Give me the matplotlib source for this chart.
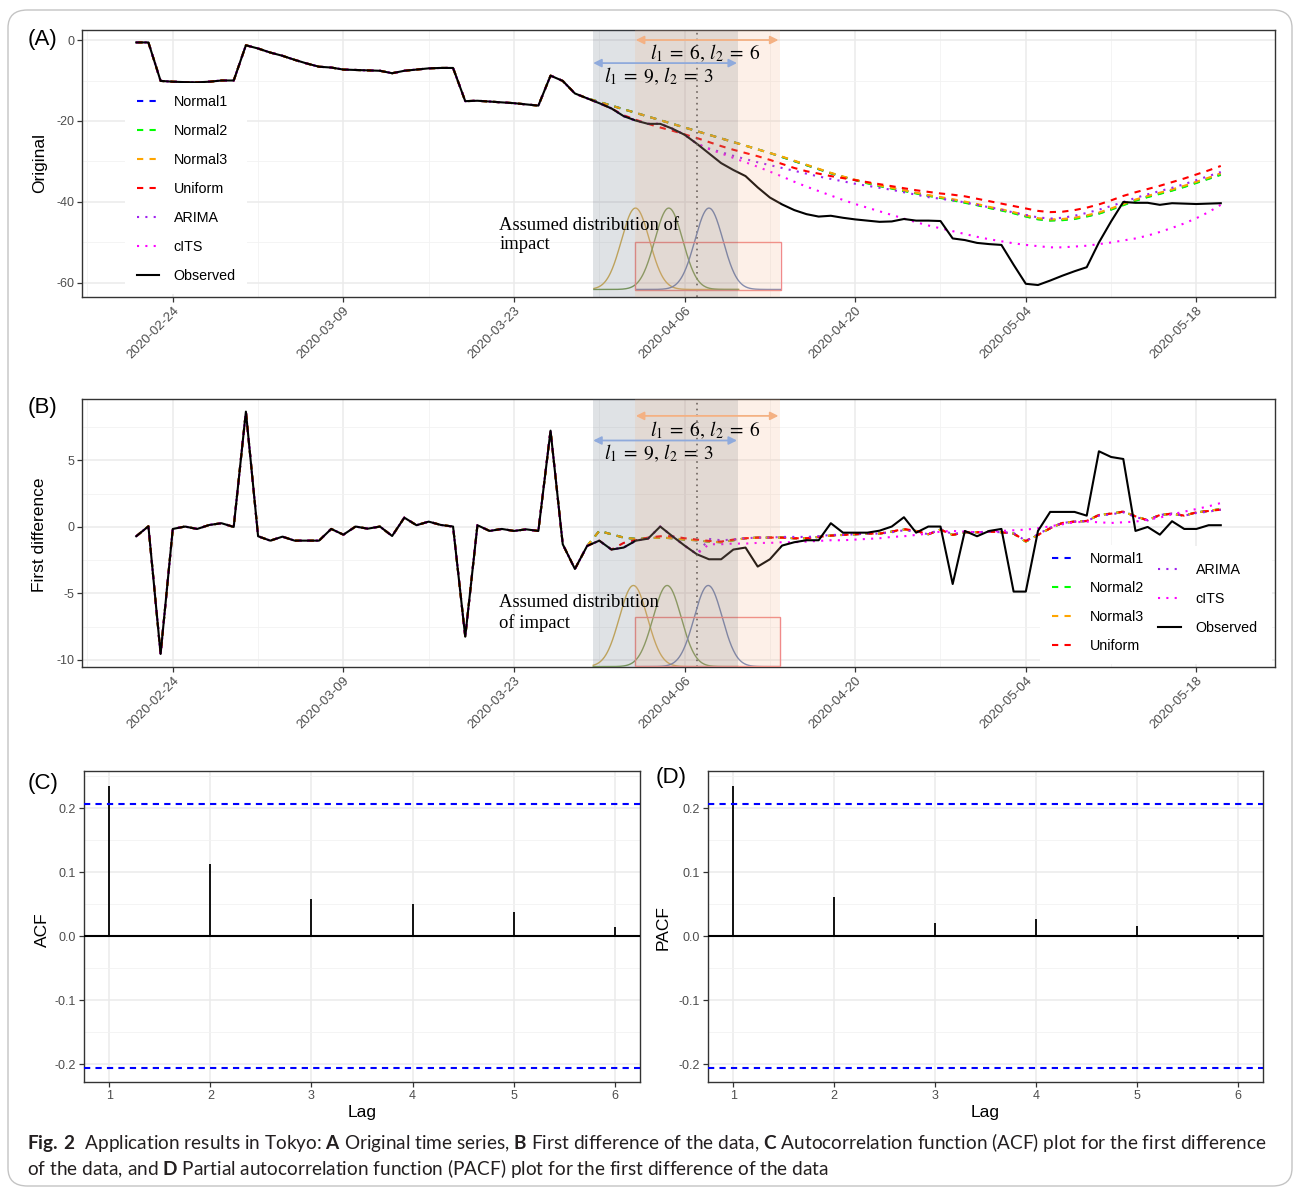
import numpy as np
import pandas as pd
import matplotlib
matplotlib.use('Agg')
import matplotlib.pyplot as plt
import matplotlib.dates as mdates
from matplotlib.patches import Rectangle, FancyBboxPatch
from matplotlib.lines import Line2D

plt.rcParams['font.family'] = ['Liberation Sans', 'DejaVu Sans']
plt.rcParams['axes.unicode_minus'] = False
plt.rcParams['mathtext.fontset'] = 'custom'
plt.rcParams['mathtext.rm'] = 'Lato'
plt.rcParams['mathtext.bf'] = 'Lato:bold'

# ---- data ----
dates = pd.date_range('2020-02-21', periods=90, freq='D')

observed = [-0.6, -0.6, -10.1, -10.3, -10.4, -10.45, -10.3, -10.0, -10.0, -1.3,
            -2.1, -3.1, -3.9, -4.9, -5.8, -6.6, -6.8, -7.3, -7.4, -7.5,
            -7.6, -8.2, -7.6, -7.3, -7.0, -6.9, -6.9, -15.1, -15.0, -15.2,
            -15.4, -15.6, -15.9, -16.2, -8.8, -10.1, -13.2, -14.4, -15.6, -16.9,
            -18.8, -19.9, -20.7, -20.7, -21.9, -23.4, -25.6, -28.0, -30.4, -32.1,
            -33.6, -36.4, -38.9, -40.6, -42.0, -43.0, -43.6, -43.4, -43.9, -44.3,
            -44.6, -44.9, -44.8, -44.2, -44.6, -44.6, -44.7, -49.0, -49.4, -50.1,
            -50.4, -50.6, -55.5, -60.2, -60.5, -59.4, -58.2, -57.1, -56.1, -50.0,
            -44.8, -40.0, -40.2, -40.2, -40.7, -40.3, -40.4, -40.5, -40.4, -40.3]

observed_diff = [-0.7, 0.05, -9.55, -0.15, 0.03, -0.15, 0.15, 0.28, 0.0, 8.67,
                 -0.7, -1.03, -0.73, -1.03, -1.03, -1.03, -0.15, -0.58, 0.03, -0.13,
                 0.03, -0.68, 0.7, 0.13, 0.4, 0.15, 0.03, -8.25, 0.13, -0.3,
                 -0.15, -0.3, -0.18, -0.3, 7.24, -1.3, -3.16, -1.43, -1.03, -1.7,
                 -1.55, -1.03, -0.88, 0.03, -0.7, -1.4, -2.05, -2.43, -2.43, -1.7,
                 -1.55, -2.98, -2.43, -1.4, -1.15, -1.0, -1.0, 0.28, -0.43, -0.43,
                 -0.43, -0.28, 0.03, 0.73, -0.43, 0.03, 0.03, -4.29, -0.3, -0.7,
                 -0.3, -0.15, -4.86, -4.86, -0.3, 1.13, 1.13, 1.13, 0.85, 5.69,
                 5.26, 5.11, -0.3, 0.0, -0.58, 0.43, -0.15, -0.15, 0.13, 0.13]

# counterfactual levels (panel A); before the start day each model equals the observed series
normal_start = 38
normal1 = [-15.3, -16.2, -17.1, -18.0, -18.9, -19.8, -20.7, -21.6, -22.5, -23.4, -24.3, -25.2, -26.1,
           -27.0, -27.9, -28.9, -29.9, -30.9, -31.9, -32.9, -33.8, -34.6, -35.3, -36.0, -36.6, -37.2,
           -37.8, -38.4, -38.9, -39.5, -40.1, -40.7, -41.4, -42.0, -42.7, -43.5, -44.2, -44.5, -44.4,
           -44.1, -43.5, -42.8, -41.8, -40.7, -39.6, -38.7, -37.9, -37.1, -36.2, -35.2, -34.2, -33.2]
normal2 = [-15.3, -16.2, -17.1, -18.0, -18.9, -19.8, -20.7, -21.6, -22.5, -23.4, -24.3, -25.2, -26.1,
           -27.0, -27.9, -28.9, -29.9, -30.9, -31.9, -32.9, -33.8, -34.6, -35.4, -36.1, -36.7, -37.3,
           -37.9, -38.5, -39.0, -39.6, -40.2, -40.8, -41.5, -42.1, -42.8, -43.6, -44.3, -44.6, -44.5,
           -44.2, -43.6, -42.9, -41.9, -40.8, -39.7, -38.8, -38.0, -37.2, -36.3, -35.3, -34.3, -33.3]
normal3 = [-15.3, -16.2, -17.1, -18.0, -18.9, -19.8, -20.7, -21.6, -22.5, -23.4, -24.3, -25.2, -26.1,
           -27.0, -27.9, -28.8, -29.8, -30.8, -31.8, -32.8, -33.7, -34.5, -35.2, -35.9, -36.5, -37.1,
           -37.7, -38.3, -38.8, -39.3, -39.9, -40.5, -41.2, -41.8, -42.5, -43.3, -44.0, -44.3, -44.2,
           -43.9, -43.3, -42.6, -41.6, -40.5, -39.4, -38.5, -37.7, -36.9, -36.0, -35.0, -34.0, -32.9]
uniform_start = 40
uniform = [-18.6, -19.7, -20.7, -21.6, -22.4, -23.3, -24.2, -25.2, -26.2, -27.1, -27.9, -28.7, -29.6,
           -30.6, -31.6, -32.4, -33.0, -33.6, -34.1, -34.6, -35.1, -35.6, -36.1, -36.6, -37.1, -37.5,
           -37.9, -38.2, -38.6, -39.2, -39.8, -40.4, -41.0, -41.6, -42.2, -42.5, -42.4, -42.0, -41.4,
           -40.6, -39.6, -38.5, -37.6, -36.8, -36.0, -35.1, -34.2, -33.2, -32.2, -31.1]
its_start = 47
arima = [-26.8, -27.7, -28.6, -29.4, -30.2, -30.9, -31.6, -32.3, -33.0, -33.7, -34.3, -34.9, -35.5,
         -36.0, -36.5, -37.0, -37.6, -38.2, -38.8, -39.2, -39.6, -40.1, -40.7, -41.3, -41.9, -42.6,
         -43.2, -43.8, -44.1, -43.9, -43.4, -42.7, -41.9, -41.0, -40.0, -39.0, -38.1, -37.3, -36.5,
         -35.6, -34.6, -33.6, -32.6]
cits = [-26.9, -28.0, -29.1, -30.2, -31.3, -32.5, -33.7, -35.0, -36.2, -37.3, -38.4, -39.5, -40.5,
        -41.4, -42.3, -43.2, -44.1, -45.0, -45.8, -46.5, -47.2, -47.9, -48.6, -49.2, -49.7, -50.2,
        -50.6, -50.9, -51.2, -51.2, -51.0, -50.8, -50.4, -50.0, -49.5, -49.0, -48.3, -47.4, -46.4,
        -45.3, -44.0, -42.5, -40.7]

# counterfactual first differences (panel B)
normal1_diff = [-0.3, -0.55, -0.8, -0.9, -0.85, -0.8, -0.85, -0.95, -1.0, -1.1, -1.15, -1.0, -0.85,
                -0.8, -0.8, -0.8, -0.85, -0.85, -0.75, -0.65, -0.6, -0.55, -0.5, -0.5, -0.35, -0.2,
                -0.3, -0.55, -0.2, -0.6, -0.4, -0.4, -0.35, -0.4, -0.5, -1.1, -0.6, -0.1, 0.3,
                0.4, 0.45, 0.9, 1.0, 1.15, 0.8, 0.5, 0.9, 1.0, 0.85, 1.1, 1.2, 1.35]
normal2_diff = [-0.3, -0.55, -0.8, -0.9, -0.85, -0.8, -0.85, -0.95, -1.0, -1.1, -1.15, -1.0, -0.85,
                -0.8, -0.8, -0.8, -0.85, -0.85, -0.75, -0.65, -0.6, -0.55, -0.5, -0.5, -0.35, -0.2,
                -0.3, -0.55, -0.2, -0.6, -0.4, -0.4, -0.35, -0.4, -0.5, -1.1, -0.6, -0.1, 0.3,
                0.4, 0.45, 0.9, 1.0, 1.15, 0.8, 0.5, 0.9, 1.0, 0.85, 1.1, 1.2, 1.35]
normal3_diff = [-0.3, -0.55, -0.8, -0.9, -0.85, -0.8, -0.85, -0.95, -1.0, -1.1, -1.15, -1.0, -0.85,
                -0.8, -0.8, -0.8, -0.85, -0.85, -0.75, -0.65, -0.6, -0.55, -0.5, -0.5, -0.35, -0.2,
                -0.3, -0.55, -0.2, -0.6, -0.4, -0.4, -0.35, -0.4, -0.5, -1.1, -0.6, -0.1, 0.3,
                0.4, 0.45, 0.9, 1.0, 1.15, 0.8, 0.5, 0.9, 1.0, 0.85, 1.1, 1.2, 1.35]
uniform_diff = [-1.2, -1.0, -0.8, -0.7, -0.7, -0.85, -0.95, -1.05, -1.1, -0.95, -0.85,
                -0.8, -0.8, -0.8, -0.85, -0.85, -0.75, -0.65, -0.6, -0.55, -0.5, -0.5, -0.35, -0.15,
                -0.3, -0.55, -0.2, -0.6, -0.4, -0.4, -0.35, -0.4, -0.5, -1.05, -0.6, -0.1, 0.3,
                0.4, 0.45, 0.9, 1.0, 1.15, 0.8, 0.5, 0.9, 1.0, 0.85, 1.1, 1.2, 1.3]
arima_diff = [-0.9, -1.0, -0.95, -0.85, -0.8, -0.8, -0.75, -0.75, -0.75, -0.7, -0.6, -0.6, -0.55,
              -0.5, -0.5, -0.4, -0.25, -0.35, -0.55, -0.15, -0.55, -0.35, -0.4, -0.35, -0.4, -0.45,
              -1.05, -0.55, -0.05, 0.3, 0.4, 0.45, 0.85, 0.95, 1.1, 0.75, 0.5, 0.9, 1.0,
              0.85, 1.05, 1.15, 1.3]
cits_diff = [-1.3, -1.3, -1.25, -1.25, -1.2, -1.2, -1.15, -1.15, -1.1, -1.05, -1.0, -1.0, -0.95,
             -0.9, -0.85, -0.75, -0.7, -0.6, -0.5, -0.35, -0.3, -0.35, -0.4, -0.35, -0.3, -0.25,
             -0.2, -0.1, 0.05, 0.2, 0.35, 0.4, 0.35, 0.3, 0.35, 0.4, 0.55, 0.7, 0.95,
             1.15, 1.35, 1.55, 1.8]

lags = [1, 2, 3, 4, 5, 6]
acf_vals = [0.234, 0.112, 0.058, 0.050, 0.038, 0.014]
pacf_vals = [0.234, 0.061, 0.020, 0.027, 0.016, -0.004]
conf_bound = 0.206

model_names = ['Normal1', 'Normal2', 'Normal3', 'Uniform', 'ARIMA', 'cITS']
model_colors = ['#0000ff', '#00ff00', '#ffa500', '#ff0000', '#a020f0', '#ff00ff']
dashed = (0, (3, 3))
dotted = (0, (1, 3))
model_ls = [dashed, dashed, dashed, dashed, dotted, dotted]

# ---- figure ----
W, H = 1295, 1188
fig = plt.figure(figsize=(W / 100, H / 100), dpi=100)


def box(l, t, r, b):
    return [l / W, 1 - b / H, (r - l) / W, (b - t) / H]


axA = fig.add_axes(box(82, 30, 1275, 297))
axB = fig.add_axes(box(82, 399, 1275, 667))
axC = fig.add_axes(box(84, 771, 640, 1082))
axD = fig.add_axes(box(708, 771, 1263, 1082))

x = mdates.date2num(dates)
x0 = x[0]


def day(i):
    return x0 + i


def style(ax):
    ax.set_axisbelow(True)
    ax.grid(which='major', color='#ebebeb', lw=1.1)
    ax.grid(which='minor', color='#f2f2f2', lw=0.6)
    for s in ax.spines.values():
        s.set_color('#333333')
        s.set_linewidth(1.0)
    ax.tick_params(which='major', length=3.5, width=0.9, color='#333333',
                   labelcolor='#4d4d4d', labelsize=9, pad=2)
    ax.tick_params(which='minor', length=0)


obs = np.array(observed)
obs_d = np.array(observed_diff)
levels = [np.concatenate([obs[:normal_start], normal1]),
          np.concatenate([obs[:normal_start], normal2]),
          np.concatenate([obs[:normal_start], normal3]),
          np.concatenate([obs[:uniform_start], uniform]),
          np.concatenate([obs[:its_start], arima]),
          np.concatenate([obs[:its_start], cits])]
diffs = [np.concatenate([obs_d[:normal_start], normal1_diff]),
         np.concatenate([obs_d[:normal_start], normal2_diff]),
         np.concatenate([obs_d[:normal_start], normal3_diff]),
         np.concatenate([obs_d[:uniform_start], uniform_diff]),
         np.concatenate([obs_d[:its_start], arima_diff]),
         np.concatenate([obs_d[:its_start], cits_diff])]

major_days = pd.date_range('2020-02-24', periods=7, freq='14D')
major_x = mdates.date2num(major_days)
minor_x = major_x[:-1] + 7
minor_x = np.concatenate([[major_x[0] - 7], minor_x])


def bell(ax, center, lo, hi, base, peak, color):
    xx = np.linspace(lo, hi, 300)
    yy = base + (peak - base) * np.exp(-0.5 * ((xx - center) / 1.15) ** 2)
    ax.plot(day(xx), yy, color=color, lw=1.0, zorder=9)


for ax, series, obs_series, ylim, ymaj, ymin in [
        (axA, levels, obs, (-63.46, 2.47), [-60, -40, -20, 0], [-50, -30, -10]),
        (axB, diffs, obs_d, (-10.53, 9.62), [-10, -5, 0, 5], [-7.5, -2.5, 2.5, 7.5])]:
    style(ax)
    for s, c, ls in zip(series, model_colors, model_ls):
        ax.plot(x, s, color=c, ls=ls, lw=1.5, zorder=3)
    ax.plot(x, obs_series, color='black', lw=1.5, zorder=4)
    ax.axvline(day(46), color='#555555', ls=(0, (1, 2.5)), lw=1.2, zorder=5)
    ax.set_xlim(x0 - 4.45, x0 + 89 + 4.45)
    ax.set_ylim(*ylim)
    ax.set_xticks(major_x)
    ax.set_xticklabels([d.strftime('%Y-%m-%d') for d in major_days], rotation=45,
                       ha='right', va='top', rotation_mode='anchor', fontsize=9.5)
    ax.set_xticks(minor_x, minor=True)
    ax.set_yticks(ymaj)
    ax.set_yticklabels([str(v) for v in ymaj])
    ax.set_yticks(ymin, minor=True)
    # shaded windows (l1=9,l2=3 and l1=6,l2=6)
    ax.axvspan(day(37.5), day(49.4), color='#44546a', alpha=0.17, lw=0, zorder=10)
    ax.axvspan(day(40.9), day(52.8), color='#f4b183', alpha=0.18, lw=0, zorder=10)

lab_66 = r'$l_1\;=\;6,\,l_2\;=\;6$'
lab_93 = r'$l_1\;=\;9,\,l_2\;=\;3$'

# annotations panel A
axA.annotate('', xy=(day(52.7), 0.0), xytext=(day(41.0), 0.0),
             arrowprops=dict(arrowstyle='<|-|>', color='#f4b183', lw=1.3, mutation_scale=12,
                             shrinkA=0, shrinkB=0), zorder=11)
axA.annotate('', xy=(day(49.3), -5.7), xytext=(day(37.5), -5.7),
             arrowprops=dict(arrowstyle='<|-|>', color='#8faadc', lw=1.3, mutation_scale=12,
                             shrinkA=0, shrinkB=0), zorder=11)
axA.text(day(46.7), -3.3, lab_66, ha='center', va='center', fontsize=14,
         math_fontfamily='stix', zorder=11)
axA.text(day(42.9), -9.0, lab_93, ha='center', va='center', fontsize=14,
         math_fontfamily='stix', zorder=11)
bell(axA, 40.97, 37.56, 49.43, -61.6, -41.5, '#d6b35a')
bell(axA, 43.7, 37.56, 49.43, -61.6, -41.5, '#7fa05a')
bell(axA, 47.0, 41.0, 52.87, -61.6, -41.5, '#6f86b8')
axA.add_patch(Rectangle((day(40.9), -61.7), 12.0, 11.9, fill=False, ec='#f08a8a', lw=1.0, zorder=9))
axA.text(day(29.8), -43.6, 'Assumed distribution of\nimpact', ha='left', va='top', fontsize=13.4,
         family='Liberation Serif', linespacing=1.2, zorder=11)

# annotations panel B
axB.annotate('', xy=(day(52.7), 8.35), xytext=(day(41.0), 8.35),
             arrowprops=dict(arrowstyle='<|-|>', color='#f4b183', lw=1.3, mutation_scale=12,
                             shrinkA=0, shrinkB=0), zorder=11)
axB.annotate('', xy=(day(49.3), 6.5), xytext=(day(37.5), 6.5),
             arrowprops=dict(arrowstyle='<|-|>', color='#8faadc', lw=1.3, mutation_scale=12,
                             shrinkA=0, shrinkB=0), zorder=11)
axB.text(day(46.7), 7.3, lab_66, ha='center', va='center', fontsize=14,
         math_fontfamily='stix', zorder=11)
axB.text(day(42.9), 5.55, lab_93, ha='center', va='center', fontsize=14,
         math_fontfamily='stix', zorder=11)
bell(axB, 40.8, 37.5, 49.4, -10.5, -4.4, '#d6b35a')
bell(axB, 43.57, 37.5, 49.4, -10.5, -4.4, '#7fa05a')
bell(axB, 46.94, 41.0, 52.8, -10.5, -4.4, '#6f86b8')
axB.add_patch(Rectangle((day(40.9), -10.45), 11.9, 3.68, fill=False, ec='#f08a8a', lw=1.0, zorder=9))
axB.text(day(29.8), -5.05, 'Assumed distribution\nof impact', ha='left', va='top', fontsize=13.4,
         family='Liberation Serif', linespacing=1.2, zorder=11)

# legends
handles = [Line2D([], [], color=c, ls=ls, lw=1.5) for c, ls in zip(model_colors, model_ls)]
handles.append(Line2D([], [], color='black', lw=1.5))
labels = model_names + ['Observed']
leg_kw = dict(frameon=True, framealpha=1, edgecolor='none', fancybox=False, fontsize=10.3,
              handlelength=1.6, handletextpad=1.0, labelspacing=1.05)
legA = axA.legend(handles, labels, loc='upper left',
                  bbox_to_anchor=((118 - 82) / 1193, (297 - 76) / 267), borderpad=0.8, **leg_kw)
legA.set_zorder(12)

axB.add_patch(Rectangle((day(74.2), -10.3), 19.0, 8.9, fc='white', ec='none', zorder=1.5))
legB1 = axB.legend(handles[:4], labels[:4], loc='upper left',
                   bbox_to_anchor=((1038 - 82) / 1193, (667 - 538) / 268), borderpad=0.5, **leg_kw)
axB.add_artist(legB1)
legB2 = axB.legend(handles[4:], labels[4:], loc='upper left',
                   bbox_to_anchor=((1144 - 82) / 1193, (667 - 549) / 268), borderpad=0.5, **leg_kw)
legB1.set_zorder(12)
legB2.set_zorder(12)

# ACF / PACF panels
for ax, vals in [(axC, acf_vals), (axD, pacf_vals)]:
    style(ax)
    ax.vlines(lags, 0, vals, color='black', lw=1.3, zorder=3)
    ax.axhline(0, color='black', lw=1.5, zorder=3)
    ax.axhline(conf_bound, color='#0000ff', ls=(0, (3, 2.5)), lw=1.5, zorder=3)
    ax.axhline(-conf_bound, color='#0000ff', ls=(0, (3, 2.5)), lw=1.5, zorder=3)
    ax.set_xlim(0.75, 6.25)
    ax.set_ylim(-0.228, 0.258)
    ax.set_xticks(lags)
    ax.set_yticks([-0.2, -0.1, 0.0, 0.1, 0.2])
    ax.set_yticklabels(['-0.2', '-0.1', '0.0', '0.1', '0.2'])
    ax.set_yticks([-0.15, -0.05, 0.05, 0.15, 0.25], minor=True)

# text labels
for lab, px, py in [('(A)', 28, 40), ('(B)', 28, 408), ('(C)', 28, 783), ('(D)', 656, 778)]:
    fig.text(px / W, 1 - py / H, lab, fontsize=16, ha='left', va='center')
for lab, px, py in [('Original', 40, 163), ('First difference', 40, 535), ('ACF', 42, 930), ('PACF', 663, 928)]:
    fig.text(px / W, 1 - py / H, lab, fontsize=12.5, rotation=90, ha='center', va='center')
for px in [362, 985]:
    fig.text(px / W, 1 - 1112 / H, 'Lag', fontsize=12.5, ha='center', va='center')

cap1 = (r'$\mathbf{Fig.\,2}$  Application results in Tokyo: $\mathbf{A}$ Original time series, '
        r'$\mathbf{B}$ First difference of the data, $\mathbf{C}$ Autocorrelation function (ACF) '
        r'plot for the first difference')
cap2 = (r'of the data, and $\mathbf{D}$ Partial autocorrelation function (PACF) plot for the '
        r'first difference of the data')
fig.text(27 / W, 1 - 1142 / H, cap1, fontsize=13.7, family='Lato', color='#231f20', ha='left', va='center')
fig.text(27 / W, 1 - 1168 / H, cap2, fontsize=13.7, family='Lato', color='#231f20', ha='left', va='center')

fig.patches.append(FancyBboxPatch((8 / W, 1 - 1186 / H), 1284 / W, 1176 / H,
                                  boxstyle='round,pad=0,rounding_size=0.015',
                                  transform=fig.transFigure, fc='none', ec='#c4c4c4', lw=1.0))

fig.savefig('out.png', dpi=100)
